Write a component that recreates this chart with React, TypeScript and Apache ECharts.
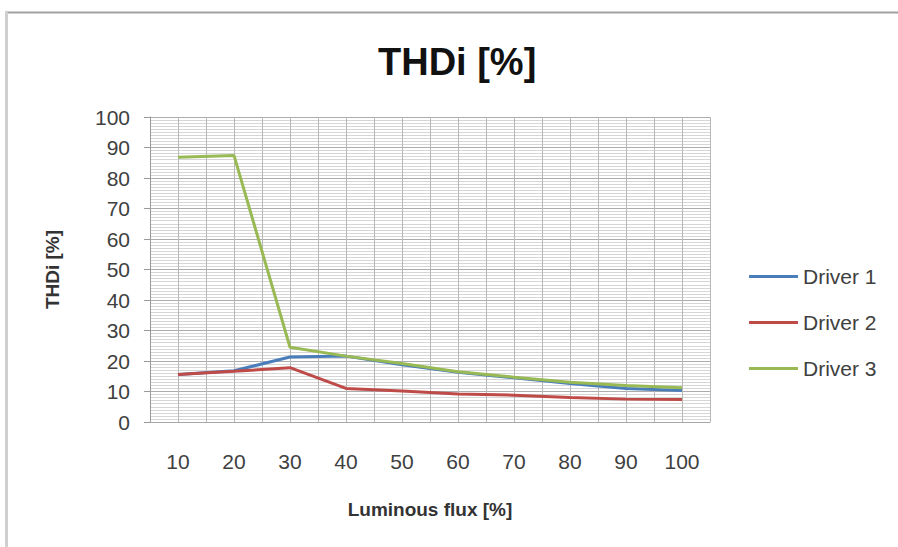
import React, { useEffect, useRef } from "react";
import * as echarts from "echarts";

const categories = ["10", "20", "30", "40", "50", "60", "70", "80", "90", "100"];
const driver1 = [15.6, 16.8, 21.3, 21.6, 18.8, 16.3, 14.5, 12.6, 11.0, 10.3];
const driver2 = [15.6, 16.6, 17.8, 11.0, 10.2, 9.2, 8.8, 8.0, 7.5, 7.4];
const driver3 = [86.8, 87.4, 24.5, 21.6, 19.2, 16.5, 14.7, 13.0, 12.0, 11.2];
const yTicks = { min: 0, max: 100, interval: 10 };

const FONT = "'Liberation Sans', Arial, sans-serif";

export default function App() {
  const ref = useRef<HTMLDivElement>(null);
  useEffect(() => {
    if (!ref.current) return;
    const chart = echarts.init(ref.current, null, { renderer: "svg" });
    const mk = (name: string, data: number[], color: string) => ({
      name,
      type: "line",
      data,
      symbol: "none",
      showSymbol: false,
      xAxisIndex: 0,
      lineStyle: { color, width: 3 },
      itemStyle: { color },
      z: 3,
    });
    chart.setOption({
      animation: false,
      backgroundColor: "#ffffff",
      textStyle: { fontFamily: FONT },
      title: {
        text: "THDi [%]",
        left: 378,
        top: 43,
        padding: 0,
        textStyle: { fontFamily: FONT, fontSize: 38, fontWeight: "bold", color: "#111" },
      },
      legend: {
        orient: "vertical",
        left: 744,
        top: 261,
        itemWidth: 49,
        itemHeight: 22,
        itemGap: 25,
        icon: "path://M0,0 L49,0 L49,3 L0,3 Z",
        textStyle: { fontFamily: FONT, fontSize: 21, color: "#404040" },
        data: ["Driver 1", "Driver 2", "Driver 3"],
      },
      grid: { left: 150, right: 188, top: 117, bottom: 125, containLabel: false },
      xAxis: [
        {
          type: "category",
          data: categories,
          boundaryGap: true,
          name: "Luminous flux [%]",
          nameLocation: "middle",
          nameGap: 78,
          nameTextStyle: { fontFamily: FONT, fontSize: 19, fontWeight: "bold", color: "#333" },
          axisLine: { show: true, lineStyle: { color: "#a6a6a6", width: 1 } },
          axisTick: { show: false },
          splitLine: { show: false },
          axisLabel: { fontFamily: FONT, fontSize: 21, color: "#404040", margin: 29 },
        },
        {
          type: "value",
          min: 0,
          max: 20,
          interval: 1,
          position: "bottom",
          axisLine: { show: false },
          axisTick: { show: false },
          axisLabel: { show: false },
          splitLine: { show: true, lineStyle: { color: "#b8b8b8", width: 1 } },
        },
      ],
      yAxis: {
        type: "value",
        min: yTicks.min,
        max: yTicks.max,
        interval: yTicks.interval,
        name: "THDi [%]",
        nameLocation: "middle",
        nameGap: 88,
        nameTextStyle: { fontFamily: FONT, fontSize: 19, fontWeight: "bold", color: "#333" },
        axisLine: { show: true, lineStyle: { color: "#9a9a9a", width: 1 } },
        axisTick: { show: true, inside: false, length: 6, lineStyle: { color: "#9a9a9a" } },
        axisLabel: { fontFamily: FONT, fontSize: 21, color: "#404040", margin: 20 },
        splitLine: { show: true, lineStyle: { color: "#acacac", width: 1 } },
        minorTick: { show: false, splitNumber: 10 },
        minorSplitLine: { show: true, lineStyle: { color: "#d6d6d6", width: 1 } },
      },
      graphic: [
        {
          type: "line",
          shape: { x1: 5, y1: 12.5, x2: 898, y2: 12.5 },
          style: { stroke: "#a0a0a0", lineWidth: 2 },
          silent: true,
        },
        {
          type: "line",
          shape: { x1: 6.5, y1: 12, x2: 6.5, y2: 547 },
          style: { stroke: "#cfcfcf", lineWidth: 3 },
          silent: true,
        },
      ],
      series: [
        mk("Driver 1", driver1, "#4a7ebb"),
        mk("Driver 2", driver2, "#be4b48"),
        mk("Driver 3", driver3, "#98b954"),
      ],
    });
    return () => chart.dispose();
  }, []);
  return (
    <div
      ref={ref}
      style={{ position: "fixed", left: 0, top: 0, width: 898, height: 547 }}
    />
  );
}
